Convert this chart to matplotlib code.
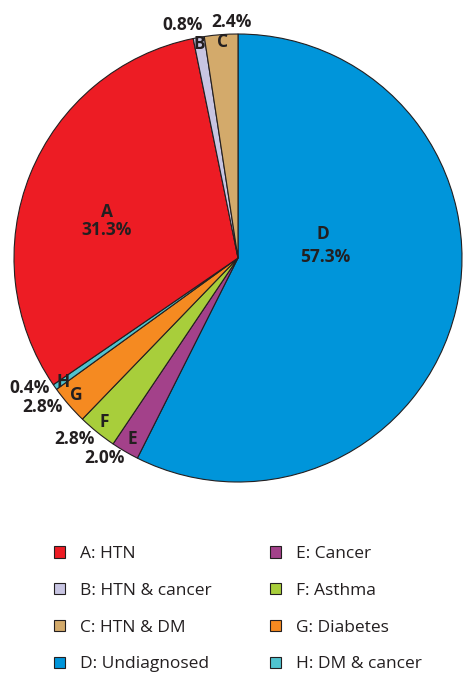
import matplotlib.pyplot as plt
from matplotlib.patches import Patch

# slice data, drawn clockwise from 12 o'clock
letters = ['D', 'E', 'F', 'G', 'H', 'A', 'B', 'C']
names = ['Undiagnosed', 'Cancer', 'Asthma', 'Diabetes', 'DM & cancer',
         'HTN', 'HTN & cancer', 'HTN & DM']
shares = [57.3, 2.0, 2.8, 2.8, 0.4, 31.3, 0.8, 2.4]
colors = ['#0095DA', '#A3418A', '#A8CE3B', '#F58A21', '#4FC3CF',
          '#ED1C24', '#C8C5E2', '#D3AA6B']

# label places (pie data coords, radius 1)
letter_pos = {'A': (-0.585, 0.205), 'B': (-0.174, 0.955), 'C': (-0.067, 0.964),
              'D': (0.379, 0.107), 'E': (-0.473, -0.808), 'F': (-0.598, -0.732),
              'G': (-0.723, -0.612), 'H': (-0.781, -0.554)}
pct_pos = {'A': (-0.585, 0.125), 'B': (-0.246, 1.04), 'C': (-0.027, 1.054),
           'D': (0.388, 0.004), 'E': (-0.598, -0.893), 'F': (-0.732, -0.808),
           'G': (-0.871, -0.666), 'H': (-0.929, -0.580)}

ink = '#231F20'
plt.rcParams['font.family'] = ['Open Sans', 'DejaVu Sans']

W, H = 463, 675
fig = plt.figure(figsize=(W / 100, H / 100), dpi=100)
ax = fig.add_axes([14 / W, (H - 482) / H, 448 / W, 448 / H])

wedges, _ = ax.pie(shares, colors=colors, startangle=90, counterclock=False,
                   radius=1, wedgeprops=dict(edgecolor=ink, linewidth=0.8))
ax.set_xlim(-1, 1)
ax.set_ylim(-1, 1)
ax.set_aspect('equal')
ax.axis('off')

for i, l in enumerate(letters):
    x, y = letter_pos[l]
    ax.text(x, y, l, ha='center', va='center', fontsize=12.5,
            fontweight='bold', color=ink)
    x, y = pct_pos[l]
    ax.text(x, y, '%.1f%%' % shares[i], ha='center', va='center',
            fontsize=12.5, fontweight='bold', color=ink)

# legend in two columns: A-D, E-H
order = sorted(range(len(letters)), key=lambda i: letters[i])
handles = [Patch(facecolor=colors[i], edgecolor=ink, linewidth=0.8) for i in order]
labels = ['%s: %s' % (letters[i], names[i]) for i in order]

for col, x0 in enumerate([54, 270]):
    leg = fig.legend(handles[col * 4:col * 4 + 4], labels[col * 4:col * 4 + 4],
                     loc='upper left', bbox_to_anchor=(x0 / W, (H - 546) / H),
                     frameon=False, borderpad=0, borderaxespad=0,
                     handlelength=0.63, handleheight=0.63, handletextpad=0.87,
                     labelspacing=1.2, prop={'size': 12.5})
    for t in leg.get_texts():
        t.set_color(ink)

fig.savefig('out.png', dpi=100)
